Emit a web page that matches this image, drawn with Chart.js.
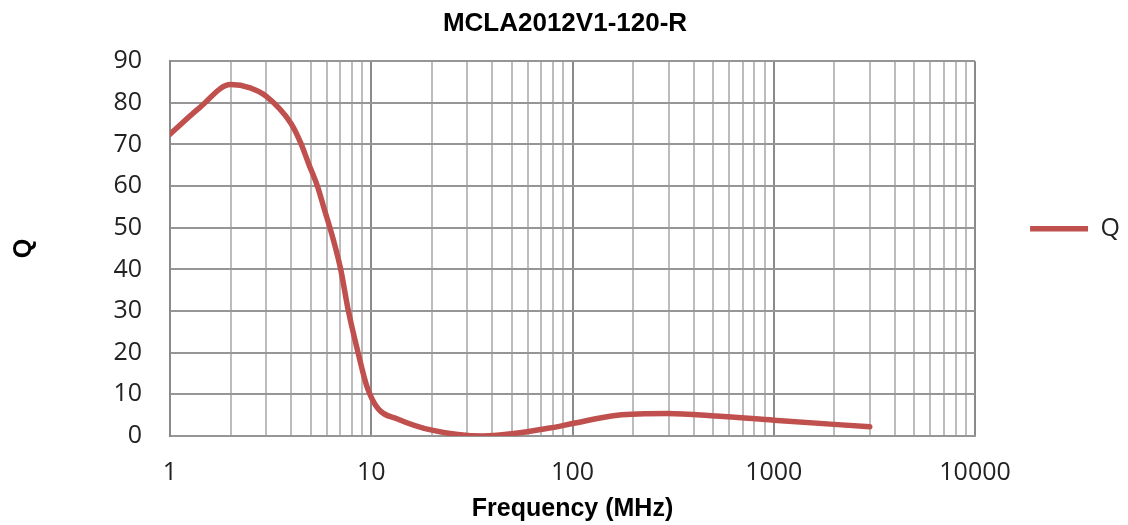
<!DOCTYPE html>
<html>
<head>
<meta charset="utf-8">
<script src="https://cdn.jsdelivr.net/npm/chart.js@4.4.1/dist/chart.umd.min.js"></script>
<style>
html, body { margin: 0; padding: 0; background: #fff; }
#wrap { width: 1128px; height: 525px; }
</style>
</head>
<body>
<div id="wrap"><canvas id="chart"></canvas></div>
<script>
// values
var freqs = [1, 1.4, 2, 2.5, 3, 4, 4.45, 4.9, 5.4, 5.8, 6.5, 7.05, 7.7, 8.6, 9.5, 10.8, 13.5, 20, 36, 77, 100, 167, 295, 520, 1000, 3000]
var qValues = [72.5, 78.8, 84.4, 83.6, 81.6, 75, 70.5, 65.2, 60, 55, 46.9, 40, 30, 20, 12, 6.6, 4.1, 1.4, 0, 1.9, 3.0, 5.0, 5.4, 4.8, 3.8, 2.2]
var xTickLabels = ['1', '10', '100', '1000', '10000']
var xMinor = [1, 2, 3, 4, 5, 6, 7, 8, 9]

var RED = '#C0504D'
Chart.defaults.font.family = '"Open Sans", sans-serif'

var ctx = document.getElementById('chart').getContext('2d')
var chart = new Chart(ctx, {
    type: 'line',
    data: {
        datasets: [{
            label: 'Q',
            data: freqs.map((f, i) => ({x: f, y: qValues[i]})),
            borderColor: RED,
            backgroundColor: RED,
            borderWidth: 5.5,
            borderCapStyle: 'round',
            pointRadius: 0,
            cubicInterpolationMode: 'monotone',
            fill: false
        }]
    },
    options: {
        responsive: true,
        maintainAspectRatio: false,
        animation: false,
        layout: { padding: { top: 0, right: -2, bottom: 0, left: 0 } },
        plugins: {
            title: {
                display: true,
                text: 'MCLA2012V1-120-R',
                color: '#000',
                font: { family: '"Liberation Sans", Arial, sans-serif', weight: 'bold', size: 26 },
                padding: { top: 8, bottom: 22 }
            },
            legend: {
                position: 'right',
                align: 'start',
                fullSize: false,
                title: { display: true, text: '', font: { size: 10 }, padding: { top: 88, bottom: 0 } },
                labels: {
                    usePointStyle: true,
                    pointStyle: 'line',
                    pointStyleWidth: 58,
                    padding: 55,
                    color: '#222',
                    font: { size: 25 }
                }
            },
            tooltip: { enabled: false }
        },
        scales: {
            x: {
                type: 'logarithmic',
                min: 1,
                max: 10000,
                afterBuildTicks: function (scale) {
                    var t = []
                    for (var e = 0; e < 4; e++) {
                        xMinor.forEach(m => t.push({value: m * Math.pow(10, e)}))
                    }
                    t.push({value: 10000})
                    scale.ticks = t
                },
                afterFit: function (scale) { scale.height = 89 },
                ticks: {
                    autoSkip: false,
                    maxRotation: 0,
                    padding: 22,
                    color: '#222',
                    font: { size: 25 },
                    callback: function (value) {
                        var s = String(value)
                        return xTickLabels.indexOf(s) >= 0 ? s : ''
                    }
                },
                grid: {
                    drawTicks: false,
                    lineWidth: 2,
                    color: function (c) {
                        var v = c.tick ? c.tick.value : 0
                        return xTickLabels.indexOf(String(v)) >= 0 ? '#8a8a8a' : '#bcbcbc'
                    }
                },
                border: { display: true, color: '#969696', width: 2 },
                title: {
                    display: true,
                    text: 'Frequency (MHz)',
                    color: '#000',
                    font: { family: '"Liberation Sans", Arial, sans-serif', weight: 'bold', size: 25 },
                    padding: { top: 0, bottom: 1 }
                }
            },
            y: {
                min: 0,
                max: 90,
                afterFit: function (scale) { scale.width = 170 },
                ticks: {
                    stepSize: 10,
                    padding: 28,
                    color: '#222',
                    font: { size: 25 }
                },
                grid: { drawTicks: false, lineWidth: 2, color: '#969696' },
                border: { display: true, color: '#8a8a8a', width: 2 },
                title: {
                    display: true,
                    text: 'Q',
                    color: '#000',
                    font: { family: '"Liberation Sans", Arial, sans-serif', weight: 'bold', size: 25 },
                    padding: { top: 9, bottom: 0 }
                }
            }
        }
    }
})
</script>
</body>
</html>
